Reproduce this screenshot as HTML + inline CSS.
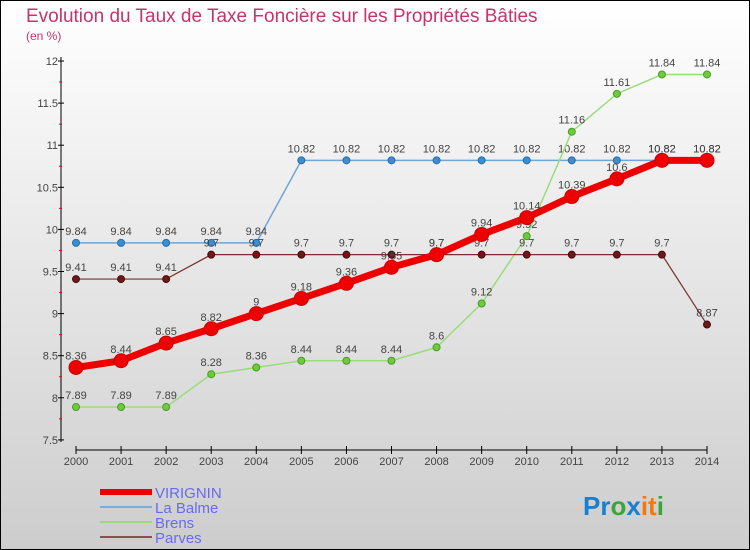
<!DOCTYPE html>
<html><head><meta charset="utf-8"><style>
body{margin:0}
svg{display:block;font-family:"Liberation Sans",sans-serif}
</style></head><body>
<svg id="c" width="750" height="550">
<defs><linearGradient id="bg" x1="0" y1="0" x2="0" y2="1"><stop offset="0" stop-color="#ffffff"/><stop offset="1" stop-color="#cdcdcd"/></linearGradient></defs>
<rect x="0.5" y="0.5" width="749" height="549" fill="url(#bg)" stroke="#000"/>
<text x="26" y="22" font-size="19" fill="#c8336a">Evolution du Taux de Taxe Foncière sur les Propriétés Bâties</text>
<text x="26" y="40" font-size="12" fill="#c8336a">(en %)</text>
<g id="axes"></g><g id="series"></g><g id="legend"></g>
<text x="583" y="515" font-size="26" font-weight="bold"><tspan fill="#1a7fd0">Pr</tspan><tspan fill="#3aa63a">o</tspan><tspan fill="#1a7fd0">x</tspan><tspan fill="#f07a10">it</tspan><tspan fill="#3aa63a">i</tspan></text>
</svg>
<script>
const years=[2000,2001,2002,2003,2004,2005,2006,2007,2008,2009,2010,2011,2012,2013,2014];
const yTicks=[7.5,8,8.5,9,9.5,10,10.5,11,11.5,12];
const virignin=[8.36,8.44,8.65,8.82,9,9.18,9.36,9.55,9.7,9.94,10.14,10.39,10.6,10.82,10.82];
const laBalme=[9.84,9.84,9.84,9.84,9.84,10.82,10.82,10.82,10.82,10.82,10.82,10.82,10.82,10.82,10.82];
const brens=[7.89,7.89,7.89,8.28,8.36,8.44,8.44,8.44,8.6,9.12,9.92,11.16,11.61,11.84,11.84];
const parves=[9.41,9.41,9.41,9.7,9.7,9.7,9.7,9.7,9.7,9.7,9.7,9.7,9.7,9.7,8.87];
const NS='http://www.w3.org/2000/svg';
const X=i=>76+i*(631/14);
const Y=v=>61+(12-v)*84.2;
function mk(t,a,p){const e=document.createElementNS(NS,t);for(const k in a)e.setAttribute(k,a[k]);p.appendChild(e);return e;}
const ax=document.getElementById('axes');
let l=mk('line',{x1:61,y1:57,x2:61,y2:442,stroke:'#000'},ax);


l=mk('line',{x1:76,y1:450,x2:707,y2:450,stroke:'#000'},ax);


yTicks.forEach((v,i)=>{
  mk('line',{x1:58,y1:Y(v),x2:64,y2:Y(v),stroke:'#000'},ax);
  if(i<yTicks.length-1) mk('line',{x1:59,y1:Y(v+0.25),x2:62,y2:Y(v+0.25),stroke:'#e00'},ax);
  const t=mk('text',{x:58,y:Y(v)+4,'font-size':11,'text-anchor':'end',fill:'#444'},ax);t.textContent=String(v);
  
  
});
years.forEach((y,i)=>{
  mk('line',{x1:X(i),y1:446,x2:X(i),y2:454,stroke:'#000'},ax);
  const t=mk('text',{x:X(i),y:465,'font-size':11,'text-anchor':'middle',fill:'#444'},ax);t.textContent=y;
  
  
});
const sg=document.getElementById('series');
function draw(data,name,color,dot,w,r,dotStroke){
  const g=mk('g',{},sg);
  
  
  const p=mk('polyline',{points:data.map((v,i)=>X(i)+','+Y(v)).join(' '),fill:'none',stroke:color,'stroke-width':w},g);
  data.forEach((v,i)=>{
    const c=mk('circle',{cx:X(i),cy:Y(v),r:r,fill:dot,stroke:dotStroke,'stroke-width':1},g);
    
    
    const t=mk('text',{x:X(i),y:Y(v)-8,'font-size':11,'text-anchor':'middle',fill:'#444'},g);t.textContent=String(v);
    
    
  });
}
draw(laBalme,'la-balme','#6fa6d6','#3b8fd0',1.5,3.5,'#2a6ea8');
draw(brens,'brens','#9bdc7a','#6ccc3a',1.5,3.5,'#4a9a2a');
draw(parves,'parves','#7a3030','#6a1a1a',1.2,3.5,'#4a0a0a');
draw(virignin,'virignin','#ee0000','#ee0000',7,7,'#cc0000');
const lg=document.getElementById('legend');
const items=[['VIRIGNIN','#ee0000',6],['La Balme','#7aaed6',2],['Brens','#9bdc7a',2],['Parves','#8a5050',2]];
items.forEach((it,i)=>{
  const y=492+i*15;
  const g=mk('g',{},lg);
  
  
  mk('line',{x1:100,y1:y,x2:152,y2:y,stroke:it[1],'stroke-width':it[2]},g);
  const t=mk('text',{x:155,y:y+6,'font-size':15,fill:'#6a6af0'},g);t.textContent=it[0];
});
</script>
</body></html>
